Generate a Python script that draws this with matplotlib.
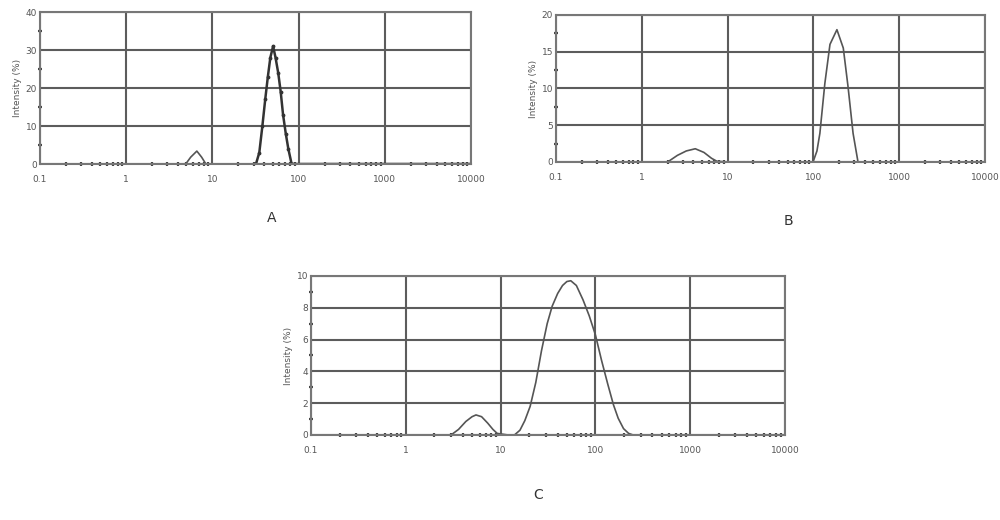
import numpy as np
import matplotlib.pyplot as plt
from matplotlib.ticker import FixedLocator, MultipleLocator, NullFormatter

# Panel A - tamaños (nm) e intensidad (%)
xa_small = [0.1, 4.9, 5.6, 6.6, 7.5, 8.4, 32]
ya_small = [0, 0, 1.8, 3.4, 1.8, 0, 0]
xa_main = [32, 35, 38, 41, 44, 47, 50.6, 54, 58, 62, 66, 71, 76, 83, 10000]
ya_main = [0, 3, 10, 17, 23, 28, 31, 28, 24, 19, 13, 8, 4, 0, 0]

# Panel B
xb = [0.1, 2.0, 2.6, 3.3, 4.2, 5.3, 6.5, 7.5, 10, 99, 110, 119, 136, 156, 188,
      223, 253, 290, 331, 10000]
yb = [0, 0, 0.9, 1.5, 1.8, 1.3, 0.5, 0.1, 0, 0, 1.5, 3.9, 10.7, 16, 18,
      15.5, 10.3, 3.9, 0, 0]

# Panel C
xc = [0.1, 3.0, 3.6, 4.3, 5.0, 5.5, 6.3, 7.3, 8.3, 9.2, 10.5, 12, 14, 16, 18,
      20.5, 23.5, 27, 31, 35, 40, 45, 50, 55, 63, 74, 86, 100, 116, 135, 155,
      174, 198, 224, 250, 10000]
yc = [0, 0, 0.35, 0.85, 1.15, 1.26, 1.15, 0.75, 0.35, 0.1, 0.05, 0.0, 0.0, 0.3, 0.9,
      1.8, 3.3, 5.3, 7.0, 8.1, 8.9, 9.4, 9.65, 9.7, 9.4, 8.5, 7.5, 6.3, 4.7, 3.2, 1.9,
      1.05, 0.4, 0.1, 0.0, 0]

xticks = [0.1, 1, 10, 100, 1000, 10000]
xticklabels = ['0.1', '1', '10', '100', '1000', '10000']

gris = '#5c5c5c'
menores_x = [d * m for d in [0.1, 1, 10, 100, 1000] for m in range(2, 10)]


def preparar_eje(ax, ymax, ypaso, yminor):
    ax.set_xscale('log')
    ax.set_xlim(0.1, 10000)
    ax.set_ylim(0, ymax)
    ax.set_xticks(xticks)
    ax.set_xticklabels(xticklabels)
    ax.xaxis.set_minor_locator(FixedLocator(menores_x))
    ax.xaxis.set_minor_formatter(NullFormatter())
    ax.yaxis.set_major_locator(MultipleLocator(ypaso))
    ax.yaxis.set_minor_locator(MultipleLocator(yminor))
    ax.grid(True, which='major', color=gris, linewidth=1.5)
    ax.tick_params(which='major', length=0, labelsize=6.5, labelcolor='#555555', pad=8)
    ax.tick_params(axis='y', which='major', pad=2)
    ax.tick_params(which='minor', length=3, width=1.6, color='#444444', direction='inout')
    for s in ax.spines.values():
        s.set_color('#777777')
        s.set_linewidth(1.5)
    ax.set_ylabel('Intensity (%)', fontsize=6.5, color='#555555', labelpad=3)
    ax.set_axisbelow(True)


fig = plt.figure(figsize=(10, 5.2), dpi=100)

axA = fig.add_axes([0.040, 0.6846, 0.431, 0.2923])
preparar_eje(axA, 40, 10, 5)
axA.plot(xa_small, ya_small, color='#555555', lw=1.2)
axA.plot(xa_main, ya_main, color='#333333', lw=1.8, marker='.', ms=3.5)
fig.text(0.272, 0.58, 'A', fontsize=10, color='#333333', ha='center', va='center')

axB = fig.add_axes([0.556, 0.6885, 0.429, 0.2827])
preparar_eje(axB, 20, 5, 2.5)
axB.plot(xb, yb, color='#555555', lw=1.2)
fig.text(0.788, 0.575, 'B', fontsize=10, color='#333333', ha='center', va='center')

axC = fig.add_axes([0.311, 0.1635, 0.474, 0.3058])
preparar_eje(axC, 10, 2, 1)
axC.plot(xc, yc, color='#555555', lw=1.2)
fig.text(0.538, 0.048, 'C', fontsize=10, color='#333333', ha='center', va='center')

plt.savefig('out.png', dpi=100)
